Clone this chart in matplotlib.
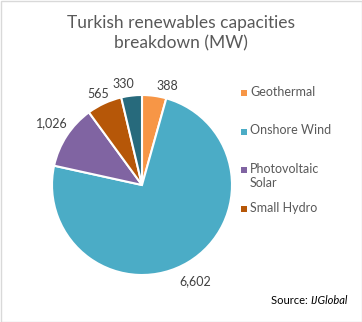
import matplotlib
matplotlib.use('Agg')
import matplotlib.pyplot as plt
from matplotlib.patches import Rectangle

# data
categories = ['Geothermal', 'Onshore Wind', 'Photovoltaic\nSolar', 'Small Hydro', 'Other']
capacities = [388, 6602, 1026, 565, 330]
colors = ['#F79646', '#4BACC6', '#8064A2', '#B65708', '#276A7C']
labels = ['{:,}'.format(v) for v in capacities]

W, H = 362, 322
plt.rcParams['font.family'] = ['Lato', 'DejaVu Sans']

fig = plt.figure(figsize=(W / 100, H / 100), dpi=100)
fig.patch.set_facecolor('white')

# pie centre (142, 185) px, radius 90 px
cx, cy, r = 142, 185, 90
ax = fig.add_axes([(cx - r) / W, (H - cy - r) / H, 2 * r / W, 2 * r / H])
wedges, texts = ax.pie(capacities, labels=labels, colors=colors, startangle=90,
                       counterclock=False, labeldistance=1.16,
                       wedgeprops=dict(edgecolor='white', linewidth=1.5),
                       textprops=dict(fontsize=9, color='#404040'))
# nudge data labels (pixels: right, down) to where Excel put them
nudges = [(11, 4), (0, 7), (-3, -5), (0, 4), (-7, 3)]
for t, (dx, dy) in zip(texts, nudges):
    t.set_ha('center')
    t.set_va('center')
    x, y = t.get_position()
    t.set_position((x + dx / r, y - dy / r))
ax.set_xlim(-1, 1)
ax.set_ylim(-1, 1)
ax.set_aspect('equal')
ax.axis('off')

fig.text(181 / W, 1 - 15 / H, 'Turkish renewables capacities\nbreakdown (MW)',
         ha='center', va='top', fontsize=12.5, color='#595959', linespacing=1.3)

# legend (only four entries fit in the original)
for i in range(4):
    yc = 93 + 38.7 * i
    fig.patches.append(Rectangle((241 / W, 1 - (yc + 3) / H), 6 / W, 6 / H,
                                 facecolor=colors[i], edgecolor='none',
                                 transform=fig.transFigure, figure=fig))
    fig.text(250 / W, 1 - (yc - 7.5) / H, categories[i], ha='left', va='top',
             fontsize=9, color='#595959', linespacing=1.25)

src = fig.text(348 / W, 1 - 301 / H, 'IJGlobal', style='italic', ha='right',
               va='center', fontsize=8, color='black')
fig.canvas.draw()
bb = src.get_window_extent()
fig.text(bb.x0 / W, 1 - 301 / H, 'Source: ', ha='right', va='center',
         fontsize=8, color='black')

fig.patches.append(Rectangle((0.5 / W, 0.5 / H), (W - 1) / W, (H - 1) / H,
                             facecolor='none', edgecolor='#D9D9D9', linewidth=1,
                             transform=fig.transFigure, figure=fig))

fig.savefig('out.png', dpi=100)
